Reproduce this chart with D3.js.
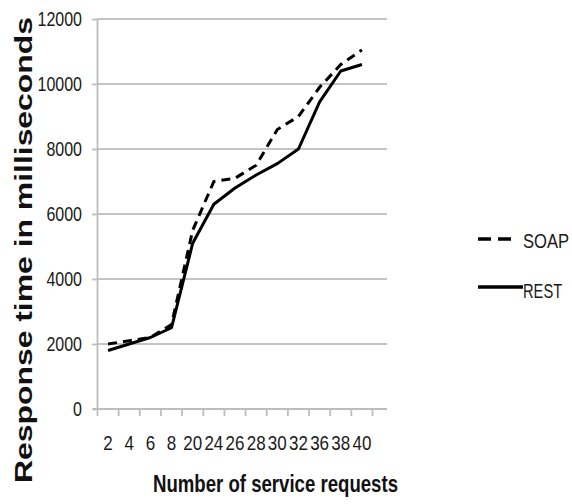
<!DOCTYPE html>
<html><head><meta charset="utf-8">
<script src="https://cdnjs.cloudflare.com/ajax/libs/d3/7.8.5/d3.min.js"></script>
<style>
html,body{margin:0;padding:0;background:#fff;}
svg{display:block;}
text{font-family:"Liberation Sans",Arial,sans-serif;}
</style></head>
<body>
<svg id="chart" width="572" height="504"></svg>
<script>
const categories = ["2","4","6","8","20","24","26","28","30","32","36","38","40"];
const soapValues = [2000,2100,2200,2600,5500,7000,7100,7500,8600,9000,9900,10600,11050];
const restValues = [1800,2000,2200,2500,5100,6300,6800,7200,7550,8000,9450,10400,10600];
const yTicks = [0,2000,4000,6000,8000,10000,12000];
const seriesNames = ["SOAP","REST"];

const svg = d3.select("#chart");
const x = d3.scaleBand().domain(categories).range([97.5, 372.5]);
const y = d3.scaleLinear().domain([0,12000]).range([409, 19]);
const gridRight = 387;
const sx = 0.8;

// gridlines
svg.append("g").selectAll("line").data(yTicks.filter(d=>d>0)).join("line")
  .attr("x1", 97).attr("x2", gridRight)
  .attr("y1", d=>y(d)).attr("y2", d=>y(d))
  .attr("stroke", "#c4c4c4").attr("stroke-width", 1.8);

// y axis
const yAxis = svg.append("g").attr("transform","translate(97,0)")
  .call(d3.axisLeft(y).tickValues(yTicks).tickSize(5).tickSizeOuter(0).tickFormat(d3.format("d")));
yAxis.select(".domain").attr("stroke","#bdbdbd").attr("stroke-width",1.8);
yAxis.selectAll(".tick line").attr("stroke","#bdbdbd").attr("stroke-width",1.8);
yAxis.selectAll(".tick text")
  .attr("x", -15/sx).attr("transform", `scale(${sx},1)`)
  .attr("font-size", 20).attr("fill", "#1a1a1a")
  .style("font-family", "'Liberation Sans',Arial,sans-serif");

// x axis (ticks at category boundaries)
const xg = svg.append("g").attr("transform","translate(0,409)");
xg.append("line").attr("x1", 93).attr("x2", gridRight).attr("y1",0).attr("y2",0)
  .attr("stroke","#bdbdbd").attr("stroke-width",1.8);
const bounds = categories.map(c=>x(c)).concat([x(categories[categories.length-1])+x.bandwidth()]);
xg.selectAll("line.tk").data(bounds).join("line").attr("class","tk")
  .attr("x1", d=>d).attr("x2", d=>d).attr("y1",0).attr("y2",7)
  .attr("stroke","#bdbdbd").attr("stroke-width",1.8);
xg.selectAll("text").data(categories).join("text")
  .attr("transform", d=>`translate(${x(d)+x.bandwidth()/2},41) scale(${sx+0.05},1)`)
  .attr("text-anchor","middle").attr("font-size",20).attr("fill","#1a1a1a")
  .text(d=>d);

// lines
const line = d3.line().x((d,i)=>x(categories[i])+x.bandwidth()/2).y(d=>y(d));
svg.append("path").datum(restValues).attr("d", line)
  .attr("fill","none").attr("stroke","#000").attr("stroke-width",3).attr("stroke-linejoin","round");
svg.append("path").datum(soapValues).attr("d", line)
  .attr("fill","none").attr("stroke","#000").attr("stroke-width",3).attr("stroke-dasharray","9,6");

// axis titles
svg.append("text").attr("transform","translate(32,250) rotate(-90)")
  .attr("text-anchor","middle").attr("font-size",23).attr("font-weight","bold").attr("fill","#111")
  .attr("textLength",466).attr("lengthAdjust","spacingAndGlyphs")
  .text("Response time in milliseconds");
svg.append("text").attr("x",153).attr("y",492)
  .attr("font-size",24).attr("font-weight","bold").attr("fill","#111")
  .attr("textLength",245).attr("lengthAdjust","spacingAndGlyphs")
  .text("Number of service requests");

// legend
const lg = svg.append("g");
lg.append("line").attr("x1",478).attr("x2",512).attr("y1",239).attr("y2",239)
  .attr("stroke","#000").attr("stroke-width",3.5).attr("stroke-dasharray","13,7");
lg.append("line").attr("x1",478).attr("x2",523).attr("y1",287).attr("y2",287)
  .attr("stroke","#000").attr("stroke-width",3.5);
lg.append("text").attr("transform","translate(523,248) scale(0.79,1)")
  .attr("font-size",21).attr("fill","#1a1a1a").text(seriesNames[0]);
lg.append("text").attr("transform","translate(523,298) scale(0.7,1)")
  .attr("font-size",21).attr("fill","#1a1a1a").text(seriesNames[1]);
</script>
</body></html>
